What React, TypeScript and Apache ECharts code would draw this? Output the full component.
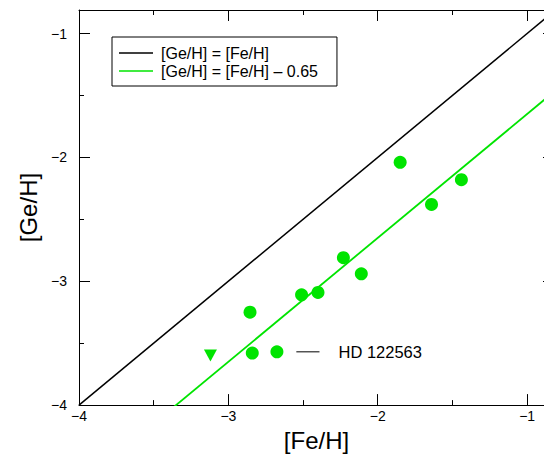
import React, { useEffect, useRef } from "react";
import * as echarts from "echarts";

// Measured stars: [Fe/H] and [Ge/H]
const feH = [-1.85, -1.44, -1.64, -2.23, -2.11, -2.51, -2.40, -2.855, -2.84, -2.675];
const geH = [-2.04, -2.18, -2.38, -2.81, -2.94, -3.11, -3.09, -3.25, -3.58, -3.57];
// Upper limit (downward triangle)
const limitFeH = [-3.12];
const limitGeH = [-3.60];

// Reference relations
const lineX = [-4, -0.82];
const offset = 0.65;

// Annotation
const annotLabel = "HD 122563";
const annotX = [-2.545, -2.39];
const annotY = -3.57;

const xTicks = [-4, -3, -2, -1];
const yTicks = [-4, -3, -2, -1];

const FONT = "'Liberation Sans', Arial, Helvetica, sans-serif";
const GREEN = "#00e400";

const fmt = (v: number) => (xTicks.includes(v) || yTicks.includes(v) ? String(v).replace("-", "\u2212") : "");

export default function App() {
  const ref = useRef<HTMLDivElement>(null);
  useEffect(() => {
    if (!ref.current) return;
    const chart = echarts.init(ref.current, undefined, { renderer: "svg" });
    const axisCommon = {
      type: "value" as const,
      interval: 1,
      axisLine: { show: true, onZero: false, lineStyle: { color: "#000", width: 1 } },
      axisTick: { show: true, inside: true, length: 11, lineStyle: { color: "#000", width: 1 } },
      minorTick: { show: true, splitNumber: 2, length: 5, lineStyle: { color: "#000", width: 1 } },
      splitLine: { show: false },
    };
    chart.setOption({
      animation: false,
      backgroundColor: "#fff",
      textStyle: { fontFamily: FONT },
      grid: { left: 79, right: 6, top: 10, height: 397 },
      legend: {
        data: [
          { name: "[Ge/H] = [Fe/H]", icon: "rect" },
          { name: "[Ge/H] = [Fe/H] \u2013 0.65", icon: "rect" },
        ],
        orient: "vertical",
        left: 112,
        top: 37,
        padding: [8, 19, 7, 7],
        itemWidth: 34,
        itemHeight: 1.3,
        itemGap: 2,
        borderColor: "#000",
        borderWidth: 1,
        borderRadius: 0,
        selectedMode: false,
        textStyle: { fontFamily: FONT, fontSize: 16, color: "#000", padding: [0, 0, 0, 3] },
      },
      xAxis: [
        {
          ...axisCommon,
          position: "bottom",
          min: -4,
          max: lineX[1],
          name: "[Fe/H]",
          nameLocation: "middle",
          nameGap: 19,
          nameTextStyle: { fontFamily: FONT, fontSize: 24, color: "#000" },
          axisLabel: { show: true, margin: 4, fontSize: 14, color: "#000", fontFamily: FONT, formatter: fmt, showMaxLabel: false },
        },
        {
          ...axisCommon,
          position: "top",
          min: -4,
          max: lineX[1],
          axisLabel: { show: false },
        },
      ],
      yAxis: [
        {
          ...axisCommon,
          position: "left",
          min: -4,
          max: -0.81,
          name: "[Ge/H]",
          nameLocation: "middle",
          nameGap: 38,
          nameTextStyle: { fontFamily: FONT, fontSize: 24, color: "#000" },
          axisLabel: { show: true, margin: 12, fontSize: 14, color: "#000", fontFamily: FONT, formatter: fmt, showMaxLabel: false },
        },
        {
          ...axisCommon,
          position: "right",
          min: -4,
          max: -0.81,
          axisLabel: { show: false },
        },
      ],
      series: [
        {
          name: "[Ge/H] = [Fe/H]",
          type: "line",
          data: lineX.map((x) => [x, x]),
          symbol: "none",
          clip: true,
          silent: true,
          color: "#000",
          lineStyle: { color: "#000", width: 1.5 },
        },
        {
          name: "[Ge/H] = [Fe/H] \u2013 0.65",
          type: "line",
          data: lineX.map((x) => [x, x - offset]),
          symbol: "none",
          clip: true,
          silent: true,
          color: GREEN,
          lineStyle: { color: GREEN, width: 1.8 },
        },
        {
          name: "stars",
          type: "scatter",
          data: feH.map((x, i) => [x, geH[i]]),
          symbol: "circle",
          symbolSize: 13,
          itemStyle: { color: GREEN, opacity: 1 },
          silent: true,
        },
        {
          name: "limits",
          type: "scatter",
          data: limitFeH.map((x, i) => [x, limitGeH[i]]),
          symbol: "triangle",
          symbolRotate: 180,
          symbolSize: [13, 12],
          itemStyle: { color: GREEN, opacity: 1 },
          silent: true,
        },
        {
          name: "annot",
          type: "line",
          data: annotX.map((x) => [x, annotY]),
          symbol: "none",
          silent: true,
          lineStyle: { color: "#000", width: 1 },
          endLabel: {
            show: true,
            formatter: annotLabel,
            distance: 19,
            fontFamily: FONT,
            fontSize: 16.5,
            color: "#000",
          },
        },
      ],
    });
    return () => chart.dispose();
  }, []);
  return (
    <div
      style={{ position: "absolute", left: 0, top: 0, width: 544, height: 457, overflow: "hidden", background: "#fff" }}
    >
      <div ref={ref} style={{ width: 560, height: 457 }} />
    </div>
  );
}
